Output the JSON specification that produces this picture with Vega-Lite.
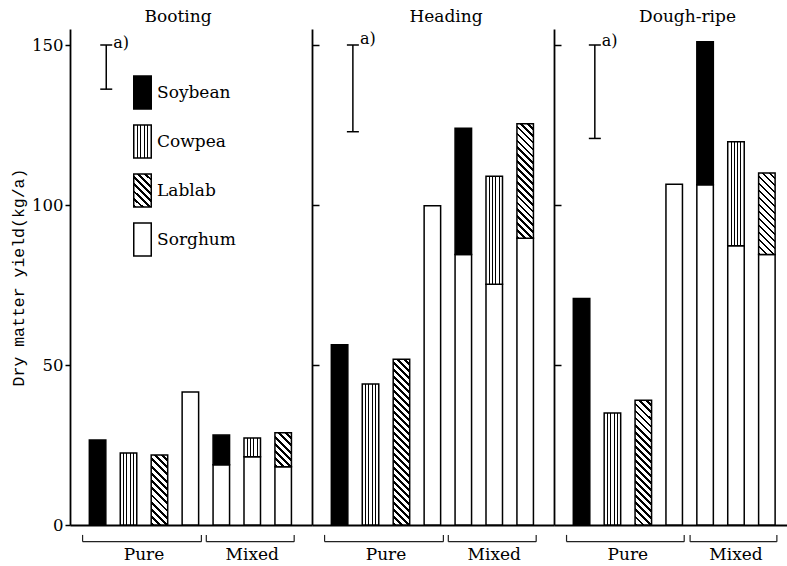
{
"$schema":"https://vega.github.io/schema/vega-lite/v6.json",
"background":"white",
"padding":{"left":10,"top":8,"right":0,"bottom":0},
"spacing":0,
"bounds":"flush",
"config":{"view":{"stroke":null},"font":"DejaVu Serif",
 "axis":{"domainColor":"#000","tickColor":"#000","labelColor":"#000","titleColor":"#000","grid":false,"domainWidth":1.8,"tickWidth":1.5},
 "title":{"font":"DejaVu Serif","fontSize":17,"fontWeight":"normal","color":"#000","anchor":"middle","offset":3}},
"resolve":{"scale":{"fill":"independent"},"legend":{"fill":"independent"}},
"datasets":{
"yield":[
{"stage":"Booting","system":"Pure","pos":1,"crop":"Soybean","part":"legume","yield":26.6},
{"stage":"Booting","system":"Pure","pos":2,"crop":"Cowpea","part":"legume","yield":22.5},
{"stage":"Booting","system":"Pure","pos":3,"crop":"Lablab","part":"legume","yield":21.9},
{"stage":"Booting","system":"Pure","pos":4,"crop":"Sorghum","part":"sorghum","yield":41.6},
{"stage":"Booting","system":"Mixed","pos":5,"crop":"Sorghum","part":"sorghum","yield":18.8},
{"stage":"Booting","system":"Mixed","pos":5,"crop":"Soybean","part":"legume","yield":9.3},
{"stage":"Booting","system":"Mixed","pos":6,"crop":"Sorghum","part":"sorghum","yield":21.3},
{"stage":"Booting","system":"Mixed","pos":6,"crop":"Cowpea","part":"legume","yield":5.9},
{"stage":"Booting","system":"Mixed","pos":7,"crop":"Sorghum","part":"sorghum","yield":18.2},
{"stage":"Booting","system":"Mixed","pos":7,"crop":"Lablab","part":"legume","yield":10.6},
{"stage":"Heading","system":"Pure","pos":1,"crop":"Soybean","part":"legume","yield":56.3},
{"stage":"Heading","system":"Pure","pos":2,"crop":"Cowpea","part":"legume","yield":44.1},
{"stage":"Heading","system":"Pure","pos":3,"crop":"Lablab","part":"legume","yield":51.8},
{"stage":"Heading","system":"Pure","pos":4,"crop":"Sorghum","part":"sorghum","yield":99.8},
{"stage":"Heading","system":"Mixed","pos":5,"crop":"Sorghum","part":"sorghum","yield":84.5},
{"stage":"Heading","system":"Mixed","pos":5,"crop":"Soybean","part":"legume","yield":39.5},
{"stage":"Heading","system":"Mixed","pos":6,"crop":"Sorghum","part":"sorghum","yield":75.2},
{"stage":"Heading","system":"Mixed","pos":6,"crop":"Cowpea","part":"legume","yield":33.8},
{"stage":"Heading","system":"Mixed","pos":7,"crop":"Sorghum","part":"sorghum","yield":89.6},
{"stage":"Heading","system":"Mixed","pos":7,"crop":"Lablab","part":"legume","yield":35.8},
{"stage":"Dough-ripe","system":"Pure","pos":1,"crop":"Soybean","part":"legume","yield":70.8},
{"stage":"Dough-ripe","system":"Pure","pos":2,"crop":"Cowpea","part":"legume","yield":35.0},
{"stage":"Dough-ripe","system":"Pure","pos":3,"crop":"Lablab","part":"legume","yield":39.0},
{"stage":"Dough-ripe","system":"Pure","pos":4,"crop":"Sorghum","part":"sorghum","yield":106.5},
{"stage":"Dough-ripe","system":"Mixed","pos":5,"crop":"Sorghum","part":"sorghum","yield":106.3},
{"stage":"Dough-ripe","system":"Mixed","pos":5,"crop":"Soybean","part":"legume","yield":44.7},
{"stage":"Dough-ripe","system":"Mixed","pos":6,"crop":"Sorghum","part":"sorghum","yield":87.3},
{"stage":"Dough-ripe","system":"Mixed","pos":6,"crop":"Cowpea","part":"legume","yield":32.5},
{"stage":"Dough-ripe","system":"Mixed","pos":7,"crop":"Sorghum","part":"sorghum","yield":84.5},
{"stage":"Dough-ripe","system":"Mixed","pos":7,"crop":"Lablab","part":"legume","yield":25.5}
],
"lsd":[
{"stage":"Booting","top":150,"bottom":136.2,"note":"a)"},
{"stage":"Heading","top":150,"bottom":122.9,"note":"a)"},
{"stage":"Dough-ripe","top":150,"bottom":120.8,"note":"a)"}
]},
"hconcat":[
{
"width":242,"height":496,
"title":{"text":"Booting","dx":-13},
"layer":[
{"data":{"name":"yield"},
 "transform":[{"filter":"datum.stage==='Booting'"},{"stack":"yield","groupby":["pos"],"sort":[{"field":"part","order":"descending"}],"as":["y0","y1"]},{"filter":"datum.crop!=='Lablab'"}],
 "mark":{"type":"bar","size":16.5,"stroke":"#000","strokeWidth":1.5},
 "encoding":{
  "x":{"field":"pos","type":"quantitative","scale":{"domain":[0.27,7.77],"nice":false,"zero":false},"axis":{"title":null,"labels":false,"ticks":false}},
  "y":{"field":"y1","type":"quantitative","scale":{"domain":[0,155],"nice":false},"axis":{"title":"Dry matter yield(kg/a)","values":[0,50,100,150],"titleFont":"Liberation Mono","titleFontSize":16.5,"titleFontWeight":"normal","titlePadding":5,"labelFont":"DejaVu Serif","labelFontSize":16.5,"labelPadding":2,"tickSize":5,"labelFlush":false}},
  "y2":{"field":"y0"},
  "fill":{"field":"crop","type":"nominal",
   "scale":{"domain":["Soybean","Cowpea","Lablab","Sorghum"],"range":["#000",
    {"expr":"{gradient:'linear',x1:0,y1:0,x2:1,y2:0,stops:[{offset:0,color:'#fff'},{offset:0.17,color:'#fff'},{offset:0.17,color:'#000'},{offset:0.23,color:'#000'},{offset:0.23,color:'#fff'},{offset:0.37,color:'#fff'},{offset:0.37,color:'#000'},{offset:0.43,color:'#000'},{offset:0.43,color:'#fff'},{offset:0.57,color:'#fff'},{offset:0.57,color:'#000'},{offset:0.63,color:'#000'},{offset:0.63,color:'#fff'},{offset:0.77,color:'#fff'},{offset:0.77,color:'#000'},{offset:0.83,color:'#000'},{offset:0.83,color:'#fff'},{offset:1,color:'#fff'}]}"},
    {"expr":"{gradient:'linear',x1:1,y1:0,x2:0.3832,y2:1.1974,stops:[{offset:0,color:'#fff'},{offset:0.0857,color:'#fff'},{offset:0.0857,color:'#000'},{offset:0.1429,color:'#000'},{offset:0.1429,color:'#fff'},{offset:0.2286,color:'#fff'},{offset:0.2286,color:'#000'},{offset:0.2857,color:'#000'},{offset:0.2857,color:'#fff'},{offset:0.3714,color:'#fff'},{offset:0.3714,color:'#000'},{offset:0.4286,color:'#000'},{offset:0.4286,color:'#fff'},{offset:0.5143,color:'#fff'},{offset:0.5143,color:'#000'},{offset:0.5714,color:'#000'},{offset:0.5714,color:'#fff'},{offset:0.6571,color:'#fff'},{offset:0.6571,color:'#000'},{offset:0.7143,color:'#000'},{offset:0.7143,color:'#fff'},{offset:0.8,color:'#fff'},{offset:0.8,color:'#000'},{offset:0.8571,color:'#000'},{offset:0.8571,color:'#fff'},{offset:0.9429,color:'#fff'},{offset:0.9429,color:'#000'},{offset:1,color:'#000'}]}"},
    "#fff"]},
   "legend":{"orient":"none","legendX":55,"legendY":46,"title":null,"symbolType":"M-0.53,-1H0.53V1H-0.53Z","symbolSize":1089,"symbolStrokeColor":"#000","symbolStrokeWidth":1.5,"labelFont":"DejaVu Serif","labelFontSize":17,"labelColor":"#000","labelOffset":-3,"rowPadding":10,"padding":0}}
 }},
{"data":{"name":"yield"},
 "transform":[{"filter":"datum.stage==='Booting'"},{"stack":"yield","groupby":["pos"],"sort":[{"field":"part","order":"descending"}],"as":["y0","y1"]},{"filter":"datum.crop==='Lablab' && datum.system==='Pure'"}],
 "mark":{"type":"bar","size":16.5,"stroke":"#000","strokeWidth":1.5,
  "fill":{"gradient":"linear","x1":1,"y1":0,"x2":0.7245,"y2":1.1705,"stops":[
{"offset":0,"color":"#fff"},{"offset":0.05,"color":"#fff"},{"offset":0.05,"color":"#000"},{"offset":0.0833,"color":"#000"},
{"offset":0.0833,"color":"#fff"},{"offset":0.1333,"color":"#fff"},{"offset":0.1333,"color":"#000"},{"offset":0.1667,"color":"#000"},
{"offset":0.1667,"color":"#fff"},{"offset":0.2167,"color":"#fff"},{"offset":0.2167,"color":"#000"},{"offset":0.25,"color":"#000"},
{"offset":0.25,"color":"#fff"},{"offset":0.3,"color":"#fff"},{"offset":0.3,"color":"#000"},{"offset":0.3333,"color":"#000"},
{"offset":0.3333,"color":"#fff"},{"offset":0.3833,"color":"#fff"},{"offset":0.3833,"color":"#000"},{"offset":0.4167,"color":"#000"},
{"offset":0.4167,"color":"#fff"},{"offset":0.4667,"color":"#fff"},{"offset":0.4667,"color":"#000"},{"offset":0.5,"color":"#000"},
{"offset":0.5,"color":"#fff"},{"offset":0.55,"color":"#fff"},{"offset":0.55,"color":"#000"},{"offset":0.5833,"color":"#000"},
{"offset":0.5833,"color":"#fff"},{"offset":0.6333,"color":"#fff"},{"offset":0.6333,"color":"#000"},{"offset":0.6667,"color":"#000"},
{"offset":0.6667,"color":"#fff"},{"offset":0.7167,"color":"#fff"},{"offset":0.7167,"color":"#000"},{"offset":0.75,"color":"#000"},
{"offset":0.75,"color":"#fff"},{"offset":0.8,"color":"#fff"},{"offset":0.8,"color":"#000"},{"offset":0.8333,"color":"#000"},
{"offset":0.8333,"color":"#fff"},{"offset":0.8833,"color":"#fff"},{"offset":0.8833,"color":"#000"},{"offset":0.9167,"color":"#000"},
{"offset":0.9167,"color":"#fff"},{"offset":0.9667,"color":"#fff"},{"offset":0.9667,"color":"#000"},{"offset":1,"color":"#000"}]}},
 "encoding":{"x":{"field":"pos","type":"quantitative"},"y":{"field":"y1","type":"quantitative"},"y2":{"field":"y0"}}},
{"data":{"name":"yield"},
 "transform":[{"filter":"datum.stage==='Booting'"},{"stack":"yield","groupby":["pos"],"sort":[{"field":"part","order":"descending"}],"as":["y0","y1"]},{"filter":"datum.crop==='Lablab' && datum.system==='Mixed'"}],
 "mark":{"type":"bar","size":16.5,"stroke":"#000","strokeWidth":1.5,
  "fill":{"gradient":"linear","x1":1,"y1":0,"x2":0.415,"y2":1.202,"stops":[
{"offset":0,"color":"#fff"},{"offset":0.0857,"color":"#fff"},{"offset":0.0857,"color":"#000"},{"offset":0.1429,"color":"#000"},
{"offset":0.1429,"color":"#fff"},{"offset":0.2286,"color":"#fff"},{"offset":0.2286,"color":"#000"},{"offset":0.2857,"color":"#000"},
{"offset":0.2857,"color":"#fff"},{"offset":0.3714,"color":"#fff"},{"offset":0.3714,"color":"#000"},{"offset":0.4286,"color":"#000"},
{"offset":0.4286,"color":"#fff"},{"offset":0.5143,"color":"#fff"},{"offset":0.5143,"color":"#000"},{"offset":0.5714,"color":"#000"},
{"offset":0.5714,"color":"#fff"},{"offset":0.6571,"color":"#fff"},{"offset":0.6571,"color":"#000"},{"offset":0.7143,"color":"#000"},
{"offset":0.7143,"color":"#fff"},{"offset":0.8,"color":"#fff"},{"offset":0.8,"color":"#000"},{"offset":0.8571,"color":"#000"},
{"offset":0.8571,"color":"#fff"},{"offset":0.9429,"color":"#fff"},{"offset":0.9429,"color":"#000"},{"offset":1,"color":"#000"}]}},
 "encoding":{"x":{"field":"pos","type":"quantitative"},"y":{"field":"y1","type":"quantitative"},"y2":{"field":"y0"}}},
{"data":{"name":"yield"},
 "transform":[{"filter":"datum.stage==='Booting'"},{"aggregate":[{"op":"min","field":"pos","as":"p0"},{"op":"max","field":"pos","as":"p1"},{"op":"mean","field":"pos","as":"pm"}],"groupby":["system"]}],
 "layer":[
  {"mark":{"type":"rule","xOffset":-15,"x2Offset":11,"strokeWidth":1.2,"color":"#222"},
   "encoding":{"x":{"field":"p0","type":"quantitative"},"x2":{"field":"p1"},"y":{"datum":-5.2,"type":"quantitative"}}},
  {"mark":{"type":"rule","xOffset":-15,"strokeWidth":1.2,"color":"#222"},
   "encoding":{"x":{"field":"p0","type":"quantitative"},"y":{"datum":-5.2,"type":"quantitative"},"y2":{"datum":-3.1}}},
  {"mark":{"type":"rule","xOffset":11,"strokeWidth":1.2,"color":"#222"},
   "encoding":{"x":{"field":"p1","type":"quantitative"},"y":{"datum":-5.2,"type":"quantitative"},"y2":{"datum":-3.1}}},
  {"mark":{"type":"text","font":"DejaVu Serif","fontSize":17,"baseline":"middle","align":"center","color":"#000"},
   "encoding":{"x":{"field":"pm","type":"quantitative"},"y":{"datum":-9.4,"type":"quantitative"},"text":{"field":"system"}}}
 ]},
{"data":{"name":"lsd"},
 "transform":[{"filter":"datum.stage==='Booting'"}],
 "layer":[
  {"mark":{"type":"rule","strokeWidth":1.5,"color":"#000"},
   "encoding":{"x":{"datum":1.28,"type":"quantitative"},"y":{"field":"top","type":"quantitative"},"y2":{"field":"bottom"}}},
  {"mark":{"type":"rule","xOffset":-6,"x2Offset":6,"strokeWidth":1.5,"color":"#000"},
   "encoding":{"x":{"datum":1.28,"type":"quantitative"},"x2":{"datum":1.28},"y":{"field":"top","type":"quantitative"}}},
  {"mark":{"type":"rule","xOffset":-6,"x2Offset":6,"strokeWidth":1.5,"color":"#000"},
   "encoding":{"x":{"datum":1.28,"type":"quantitative"},"x2":{"datum":1.28},"y":{"field":"bottom","type":"quantitative"}}},
  {"mark":{"type":"text","align":"left","baseline":"middle","dx":7,"dy":-2,"fontSize":16,"font":"DejaVu Serif","color":"#000"},
   "encoding":{"x":{"datum":1.28,"type":"quantitative"},"y":{"field":"top","type":"quantitative"},"text":{"field":"note"}}}
 ]}
]},
{
"width":242,"height":496,
"title":{"text":"Heading","dx":13},
"layer":[
{"data":{"name":"yield"},
 "transform":[{"filter":"datum.stage==='Heading'"},{"stack":"yield","groupby":["pos"],"sort":[{"field":"part","order":"descending"}],"as":["y0","y1"]},{"filter":"datum.crop!=='Lablab'"}],
 "mark":{"type":"bar","size":16.5,"stroke":"#000","strokeWidth":1.5},
 "encoding":{
  "x":{"field":"pos","type":"quantitative","scale":{"domain":[0.27,7.77],"nice":false,"zero":false},"axis":{"title":null,"labels":false,"ticks":false}},
  "y":{"field":"y1","type":"quantitative","scale":{"domain":[0,155],"nice":false},"axis":{"title":null,"values":[50,100,150],"labels":false,"tickSize":-7}},
  "y2":{"field":"y0"},
  "fill":{"field":"crop","type":"nominal",
   "scale":{"domain":["Soybean","Cowpea","Lablab","Sorghum"],"range":["#000",
    {"expr":"{gradient:'linear',x1:0,y1:0,x2:1,y2:0,stops:[{offset:0,color:'#fff'},{offset:0.17,color:'#fff'},{offset:0.17,color:'#000'},{offset:0.23,color:'#000'},{offset:0.23,color:'#fff'},{offset:0.37,color:'#fff'},{offset:0.37,color:'#000'},{offset:0.43,color:'#000'},{offset:0.43,color:'#fff'},{offset:0.57,color:'#fff'},{offset:0.57,color:'#000'},{offset:0.63,color:'#000'},{offset:0.63,color:'#fff'},{offset:0.77,color:'#fff'},{offset:0.77,color:'#000'},{offset:0.83,color:'#000'},{offset:0.83,color:'#fff'},{offset:1,color:'#fff'}]}"},
    "#fff","#fff"]},
   "legend":null}
 }},
{"data":{"name":"yield"},
 "transform":[{"filter":"datum.stage==='Heading'"},{"stack":"yield","groupby":["pos"],"sort":[{"field":"part","order":"descending"}],"as":["y0","y1"]},{"filter":"datum.crop==='Lablab' && datum.system==='Pure'"}],
 "mark":{"type":"bar","size":16.5,"stroke":"#000","strokeWidth":1.5,
  "fill":{"gradient":"linear","x1":1,"y1":0,"x2":0.8917,"y2":1.0887,"stops":[
{"offset":0,"color":"#fff"},{"offset":0.0231,"color":"#fff"},{"offset":0.0231,"color":"#000"},{"offset":0.0385,"color":"#000"},
{"offset":0.0385,"color":"#fff"},{"offset":0.0615,"color":"#fff"},{"offset":0.0615,"color":"#000"},{"offset":0.0769,"color":"#000"},
{"offset":0.0769,"color":"#fff"},{"offset":0.1,"color":"#fff"},{"offset":0.1,"color":"#000"},{"offset":0.1154,"color":"#000"},
{"offset":0.1154,"color":"#fff"},{"offset":0.1385,"color":"#fff"},{"offset":0.1385,"color":"#000"},{"offset":0.1538,"color":"#000"},
{"offset":0.1538,"color":"#fff"},{"offset":0.1769,"color":"#fff"},{"offset":0.1769,"color":"#000"},{"offset":0.1923,"color":"#000"},
{"offset":0.1923,"color":"#fff"},{"offset":0.2154,"color":"#fff"},{"offset":0.2154,"color":"#000"},{"offset":0.2308,"color":"#000"},
{"offset":0.2308,"color":"#fff"},{"offset":0.2538,"color":"#fff"},{"offset":0.2538,"color":"#000"},{"offset":0.2692,"color":"#000"},
{"offset":0.2692,"color":"#fff"},{"offset":0.2923,"color":"#fff"},{"offset":0.2923,"color":"#000"},{"offset":0.3077,"color":"#000"},
{"offset":0.3077,"color":"#fff"},{"offset":0.3308,"color":"#fff"},{"offset":0.3308,"color":"#000"},{"offset":0.3462,"color":"#000"},
{"offset":0.3462,"color":"#fff"},{"offset":0.3692,"color":"#fff"},{"offset":0.3692,"color":"#000"},{"offset":0.3846,"color":"#000"},
{"offset":0.3846,"color":"#fff"},{"offset":0.4077,"color":"#fff"},{"offset":0.4077,"color":"#000"},{"offset":0.4231,"color":"#000"},
{"offset":0.4231,"color":"#fff"},{"offset":0.4462,"color":"#fff"},{"offset":0.4462,"color":"#000"},{"offset":0.4615,"color":"#000"},
{"offset":0.4615,"color":"#fff"},{"offset":0.4846,"color":"#fff"},{"offset":0.4846,"color":"#000"},{"offset":0.5,"color":"#000"},
{"offset":0.5,"color":"#fff"},{"offset":0.5231,"color":"#fff"},{"offset":0.5231,"color":"#000"},{"offset":0.5385,"color":"#000"},
{"offset":0.5385,"color":"#fff"},{"offset":0.5615,"color":"#fff"},{"offset":0.5615,"color":"#000"},{"offset":0.5769,"color":"#000"},
{"offset":0.5769,"color":"#fff"},{"offset":0.6,"color":"#fff"},{"offset":0.6,"color":"#000"},{"offset":0.6154,"color":"#000"},
{"offset":0.6154,"color":"#fff"},{"offset":0.6385,"color":"#fff"},{"offset":0.6385,"color":"#000"},{"offset":0.6538,"color":"#000"},
{"offset":0.6538,"color":"#fff"},{"offset":0.6769,"color":"#fff"},{"offset":0.6769,"color":"#000"},{"offset":0.6923,"color":"#000"},
{"offset":0.6923,"color":"#fff"},{"offset":0.7154,"color":"#fff"},{"offset":0.7154,"color":"#000"},{"offset":0.7308,"color":"#000"},
{"offset":0.7308,"color":"#fff"},{"offset":0.7538,"color":"#fff"},{"offset":0.7538,"color":"#000"},{"offset":0.7692,"color":"#000"},
{"offset":0.7692,"color":"#fff"},{"offset":0.7923,"color":"#fff"},{"offset":0.7923,"color":"#000"},{"offset":0.8077,"color":"#000"},
{"offset":0.8077,"color":"#fff"},{"offset":0.8308,"color":"#fff"},{"offset":0.8308,"color":"#000"},{"offset":0.8462,"color":"#000"},
{"offset":0.8462,"color":"#fff"},{"offset":0.8692,"color":"#fff"},{"offset":0.8692,"color":"#000"},{"offset":0.8846,"color":"#000"},
{"offset":0.8846,"color":"#fff"},{"offset":0.9077,"color":"#fff"},{"offset":0.9077,"color":"#000"},{"offset":0.9231,"color":"#000"},
{"offset":0.9231,"color":"#fff"},{"offset":0.9462,"color":"#fff"},{"offset":0.9462,"color":"#000"},{"offset":0.9615,"color":"#000"},
{"offset":0.9615,"color":"#fff"},{"offset":0.9846,"color":"#fff"},{"offset":0.9846,"color":"#000"},{"offset":1,"color":"#000"}]}},
 "encoding":{"x":{"field":"pos","type":"quantitative"},"y":{"field":"y1","type":"quantitative"},"y2":{"field":"y0"}}},
{"data":{"name":"yield"},
 "transform":[{"filter":"datum.stage==='Heading'"},{"stack":"yield","groupby":["pos"],"sort":[{"field":"part","order":"descending"}],"as":["y0","y1"]},{"filter":"datum.crop==='Lablab' && datum.system==='Mixed'"}],
 "mark":{"type":"bar","size":16.5,"stroke":"#000","strokeWidth":1.5,
  "fill":{"gradient":"linear","x1":1,"y1":0,"x2":0.8386,"y2":1.1208,"stops":[
{"offset":0,"color":"#fff"},{"offset":0.0316,"color":"#fff"},{"offset":0.0316,"color":"#000"},{"offset":0.0526,"color":"#000"},
{"offset":0.0526,"color":"#fff"},{"offset":0.0842,"color":"#fff"},{"offset":0.0842,"color":"#000"},{"offset":0.1053,"color":"#000"},
{"offset":0.1053,"color":"#fff"},{"offset":0.1368,"color":"#fff"},{"offset":0.1368,"color":"#000"},{"offset":0.1579,"color":"#000"},
{"offset":0.1579,"color":"#fff"},{"offset":0.1895,"color":"#fff"},{"offset":0.1895,"color":"#000"},{"offset":0.2105,"color":"#000"},
{"offset":0.2105,"color":"#fff"},{"offset":0.2421,"color":"#fff"},{"offset":0.2421,"color":"#000"},{"offset":0.2632,"color":"#000"},
{"offset":0.2632,"color":"#fff"},{"offset":0.2947,"color":"#fff"},{"offset":0.2947,"color":"#000"},{"offset":0.3158,"color":"#000"},
{"offset":0.3158,"color":"#fff"},{"offset":0.3474,"color":"#fff"},{"offset":0.3474,"color":"#000"},{"offset":0.3684,"color":"#000"},
{"offset":0.3684,"color":"#fff"},{"offset":0.4,"color":"#fff"},{"offset":0.4,"color":"#000"},{"offset":0.4211,"color":"#000"},
{"offset":0.4211,"color":"#fff"},{"offset":0.4526,"color":"#fff"},{"offset":0.4526,"color":"#000"},{"offset":0.4737,"color":"#000"},
{"offset":0.4737,"color":"#fff"},{"offset":0.5053,"color":"#fff"},{"offset":0.5053,"color":"#000"},{"offset":0.5263,"color":"#000"},
{"offset":0.5263,"color":"#fff"},{"offset":0.5579,"color":"#fff"},{"offset":0.5579,"color":"#000"},{"offset":0.5789,"color":"#000"},
{"offset":0.5789,"color":"#fff"},{"offset":0.6105,"color":"#fff"},{"offset":0.6105,"color":"#000"},{"offset":0.6316,"color":"#000"},
{"offset":0.6316,"color":"#fff"},{"offset":0.6632,"color":"#fff"},{"offset":0.6632,"color":"#000"},{"offset":0.6842,"color":"#000"},
{"offset":0.6842,"color":"#fff"},{"offset":0.7158,"color":"#fff"},{"offset":0.7158,"color":"#000"},{"offset":0.7368,"color":"#000"},
{"offset":0.7368,"color":"#fff"},{"offset":0.7684,"color":"#fff"},{"offset":0.7684,"color":"#000"},{"offset":0.7895,"color":"#000"},
{"offset":0.7895,"color":"#fff"},{"offset":0.8211,"color":"#fff"},{"offset":0.8211,"color":"#000"},{"offset":0.8421,"color":"#000"},
{"offset":0.8421,"color":"#fff"},{"offset":0.8737,"color":"#fff"},{"offset":0.8737,"color":"#000"},{"offset":0.8947,"color":"#000"},
{"offset":0.8947,"color":"#fff"},{"offset":0.9263,"color":"#fff"},{"offset":0.9263,"color":"#000"},{"offset":0.9474,"color":"#000"},
{"offset":0.9474,"color":"#fff"},{"offset":0.9789,"color":"#fff"},{"offset":0.9789,"color":"#000"},{"offset":1,"color":"#000"}]}},
 "encoding":{"x":{"field":"pos","type":"quantitative"},"y":{"field":"y1","type":"quantitative"},"y2":{"field":"y0"}}},
{"data":{"name":"yield"},
 "transform":[{"filter":"datum.stage==='Heading'"},{"aggregate":[{"op":"min","field":"pos","as":"p0"},{"op":"max","field":"pos","as":"p1"},{"op":"mean","field":"pos","as":"pm"}],"groupby":["system"]}],
 "layer":[
  {"mark":{"type":"rule","xOffset":-15,"x2Offset":11,"strokeWidth":1.2,"color":"#222"},
   "encoding":{"x":{"field":"p0","type":"quantitative"},"x2":{"field":"p1"},"y":{"datum":-5.2,"type":"quantitative"}}},
  {"mark":{"type":"rule","xOffset":-15,"strokeWidth":1.2,"color":"#222"},
   "encoding":{"x":{"field":"p0","type":"quantitative"},"y":{"datum":-5.2,"type":"quantitative"},"y2":{"datum":-3.1}}},
  {"mark":{"type":"rule","xOffset":11,"strokeWidth":1.2,"color":"#222"},
   "encoding":{"x":{"field":"p1","type":"quantitative"},"y":{"datum":-5.2,"type":"quantitative"},"y2":{"datum":-3.1}}},
  {"mark":{"type":"text","font":"DejaVu Serif","fontSize":17,"baseline":"middle","align":"center","color":"#000"},
   "encoding":{"x":{"field":"pm","type":"quantitative"},"y":{"datum":-9.4,"type":"quantitative"},"text":{"field":"system"}}}
 ]},
{"data":{"name":"lsd"},
 "transform":[{"filter":"datum.stage==='Heading'"}],
 "layer":[
  {"mark":{"type":"rule","strokeWidth":1.5,"color":"#000"},
   "encoding":{"x":{"datum":1.43,"type":"quantitative"},"y":{"field":"top","type":"quantitative"},"y2":{"field":"bottom"}}},
  {"mark":{"type":"rule","xOffset":-6,"x2Offset":6,"strokeWidth":1.5,"color":"#000"},
   "encoding":{"x":{"datum":1.43,"type":"quantitative"},"x2":{"datum":1.43},"y":{"field":"top","type":"quantitative"}}},
  {"mark":{"type":"rule","xOffset":-6,"x2Offset":6,"strokeWidth":1.5,"color":"#000"},
   "encoding":{"x":{"datum":1.43,"type":"quantitative"},"x2":{"datum":1.43},"y":{"field":"bottom","type":"quantitative"}}},
  {"mark":{"type":"text","align":"left","baseline":"middle","dx":7,"dy":-6,"fontSize":16,"font":"DejaVu Serif","color":"#000"},
   "encoding":{"x":{"datum":1.43,"type":"quantitative"},"y":{"field":"top","type":"quantitative"},"text":{"field":"note"}}}
 ]}
]},
{
"width":233,"height":496,
"title":{"text":"Dough-ripe","dx":17},
"layer":[
{"data":{"name":"yield"},
 "transform":[{"filter":"datum.stage==='Dough-ripe'"},{"stack":"yield","groupby":["pos"],"sort":[{"field":"part","order":"descending"}],"as":["y0","y1"]},{"filter":"datum.crop!=='Lablab'"}],
 "mark":{"type":"bar","size":16.5,"stroke":"#000","strokeWidth":1.5},
 "encoding":{
  "x":{"field":"pos","type":"quantitative","scale":{"domain":[0.27,7.49],"nice":false,"zero":false},"axis":{"title":null,"labels":false,"ticks":false}},
  "y":{"field":"y1","type":"quantitative","scale":{"domain":[0,155],"nice":false},"axis":{"title":null,"values":[50,100,150],"labels":false,"tickSize":-7}},
  "y2":{"field":"y0"},
  "fill":{"field":"crop","type":"nominal",
   "scale":{"domain":["Soybean","Cowpea","Lablab","Sorghum"],"range":["#000",
    {"expr":"{gradient:'linear',x1:0,y1:0,x2:1,y2:0,stops:[{offset:0,color:'#fff'},{offset:0.17,color:'#fff'},{offset:0.17,color:'#000'},{offset:0.23,color:'#000'},{offset:0.23,color:'#fff'},{offset:0.37,color:'#fff'},{offset:0.37,color:'#000'},{offset:0.43,color:'#000'},{offset:0.43,color:'#fff'},{offset:0.57,color:'#fff'},{offset:0.57,color:'#000'},{offset:0.63,color:'#000'},{offset:0.63,color:'#fff'},{offset:0.77,color:'#fff'},{offset:0.77,color:'#000'},{offset:0.83,color:'#000'},{offset:0.83,color:'#fff'},{offset:1,color:'#fff'}]}"},
    "#fff","#fff"]},
   "legend":null}
 }},
{"data":{"name":"yield"},
 "transform":[{"filter":"datum.stage==='Dough-ripe'"},{"stack":"yield","groupby":["pos"],"sort":[{"field":"part","order":"descending"}],"as":["y0","y1"]},{"filter":"datum.crop==='Lablab' && datum.system==='Pure'"}],
 "mark":{"type":"bar","size":16.5,"stroke":"#000","strokeWidth":1.5,
  "fill":{"gradient":"linear","x1":1,"y1":0,"x2":0.8529,"y2":1.1128,"stops":[
{"offset":0,"color":"#fff"},{"offset":0.03,"color":"#fff"},{"offset":0.03,"color":"#000"},{"offset":0.05,"color":"#000"},
{"offset":0.05,"color":"#fff"},{"offset":0.08,"color":"#fff"},{"offset":0.08,"color":"#000"},{"offset":0.1,"color":"#000"},
{"offset":0.1,"color":"#fff"},{"offset":0.13,"color":"#fff"},{"offset":0.13,"color":"#000"},{"offset":0.15,"color":"#000"},
{"offset":0.15,"color":"#fff"},{"offset":0.18,"color":"#fff"},{"offset":0.18,"color":"#000"},{"offset":0.2,"color":"#000"},
{"offset":0.2,"color":"#fff"},{"offset":0.23,"color":"#fff"},{"offset":0.23,"color":"#000"},{"offset":0.25,"color":"#000"},
{"offset":0.25,"color":"#fff"},{"offset":0.28,"color":"#fff"},{"offset":0.28,"color":"#000"},{"offset":0.3,"color":"#000"},
{"offset":0.3,"color":"#fff"},{"offset":0.33,"color":"#fff"},{"offset":0.33,"color":"#000"},{"offset":0.35,"color":"#000"},
{"offset":0.35,"color":"#fff"},{"offset":0.38,"color":"#fff"},{"offset":0.38,"color":"#000"},{"offset":0.4,"color":"#000"},
{"offset":0.4,"color":"#fff"},{"offset":0.43,"color":"#fff"},{"offset":0.43,"color":"#000"},{"offset":0.45,"color":"#000"},
{"offset":0.45,"color":"#fff"},{"offset":0.48,"color":"#fff"},{"offset":0.48,"color":"#000"},{"offset":0.5,"color":"#000"},
{"offset":0.5,"color":"#fff"},{"offset":0.53,"color":"#fff"},{"offset":0.53,"color":"#000"},{"offset":0.55,"color":"#000"},
{"offset":0.55,"color":"#fff"},{"offset":0.58,"color":"#fff"},{"offset":0.58,"color":"#000"},{"offset":0.6,"color":"#000"},
{"offset":0.6,"color":"#fff"},{"offset":0.63,"color":"#fff"},{"offset":0.63,"color":"#000"},{"offset":0.65,"color":"#000"},
{"offset":0.65,"color":"#fff"},{"offset":0.68,"color":"#fff"},{"offset":0.68,"color":"#000"},{"offset":0.7,"color":"#000"},
{"offset":0.7,"color":"#fff"},{"offset":0.73,"color":"#fff"},{"offset":0.73,"color":"#000"},{"offset":0.75,"color":"#000"},
{"offset":0.75,"color":"#fff"},{"offset":0.78,"color":"#fff"},{"offset":0.78,"color":"#000"},{"offset":0.8,"color":"#000"},
{"offset":0.8,"color":"#fff"},{"offset":0.83,"color":"#fff"},{"offset":0.83,"color":"#000"},{"offset":0.85,"color":"#000"},
{"offset":0.85,"color":"#fff"},{"offset":0.88,"color":"#fff"},{"offset":0.88,"color":"#000"},{"offset":0.9,"color":"#000"},
{"offset":0.9,"color":"#fff"},{"offset":0.93,"color":"#fff"},{"offset":0.93,"color":"#000"},{"offset":0.95,"color":"#000"},
{"offset":0.95,"color":"#fff"},{"offset":0.98,"color":"#fff"},{"offset":0.98,"color":"#000"},{"offset":1,"color":"#000"}]}},
 "encoding":{"x":{"field":"pos","type":"quantitative"},"y":{"field":"y1","type":"quantitative"},"y2":{"field":"y0"}}},
{"data":{"name":"yield"},
 "transform":[{"filter":"datum.stage==='Dough-ripe'"},{"stack":"yield","groupby":["pos"],"sort":[{"field":"part","order":"descending"}],"as":["y0","y1"]},{"filter":"datum.crop==='Lablab' && datum.system==='Mixed'"}],
 "mark":{"type":"bar","size":16.5,"stroke":"#000","strokeWidth":1.5,
  "fill":{"gradient":"linear","x1":1,"y1":0,"x2":0.7664,"y2":1.155,"stops":[
{"offset":0,"color":"#fff"},{"offset":0.0429,"color":"#fff"},{"offset":0.0429,"color":"#000"},{"offset":0.0714,"color":"#000"},
{"offset":0.0714,"color":"#fff"},{"offset":0.1143,"color":"#fff"},{"offset":0.1143,"color":"#000"},{"offset":0.1429,"color":"#000"},
{"offset":0.1429,"color":"#fff"},{"offset":0.1857,"color":"#fff"},{"offset":0.1857,"color":"#000"},{"offset":0.2143,"color":"#000"},
{"offset":0.2143,"color":"#fff"},{"offset":0.2571,"color":"#fff"},{"offset":0.2571,"color":"#000"},{"offset":0.2857,"color":"#000"},
{"offset":0.2857,"color":"#fff"},{"offset":0.3286,"color":"#fff"},{"offset":0.3286,"color":"#000"},{"offset":0.3571,"color":"#000"},
{"offset":0.3571,"color":"#fff"},{"offset":0.4,"color":"#fff"},{"offset":0.4,"color":"#000"},{"offset":0.4286,"color":"#000"},
{"offset":0.4286,"color":"#fff"},{"offset":0.4714,"color":"#fff"},{"offset":0.4714,"color":"#000"},{"offset":0.5,"color":"#000"},
{"offset":0.5,"color":"#fff"},{"offset":0.5429,"color":"#fff"},{"offset":0.5429,"color":"#000"},{"offset":0.5714,"color":"#000"},
{"offset":0.5714,"color":"#fff"},{"offset":0.6143,"color":"#fff"},{"offset":0.6143,"color":"#000"},{"offset":0.6429,"color":"#000"},
{"offset":0.6429,"color":"#fff"},{"offset":0.6857,"color":"#fff"},{"offset":0.6857,"color":"#000"},{"offset":0.7143,"color":"#000"},
{"offset":0.7143,"color":"#fff"},{"offset":0.7571,"color":"#fff"},{"offset":0.7571,"color":"#000"},{"offset":0.7857,"color":"#000"},
{"offset":0.7857,"color":"#fff"},{"offset":0.8286,"color":"#fff"},{"offset":0.8286,"color":"#000"},{"offset":0.8571,"color":"#000"},
{"offset":0.8571,"color":"#fff"},{"offset":0.9,"color":"#fff"},{"offset":0.9,"color":"#000"},{"offset":0.9286,"color":"#000"},
{"offset":0.9286,"color":"#fff"},{"offset":0.9714,"color":"#fff"},{"offset":0.9714,"color":"#000"},{"offset":1,"color":"#000"}]}},
 "encoding":{"x":{"field":"pos","type":"quantitative"},"y":{"field":"y1","type":"quantitative"},"y2":{"field":"y0"}}},
{"data":{"name":"yield"},
 "transform":[{"filter":"datum.stage==='Dough-ripe'"},{"aggregate":[{"op":"min","field":"pos","as":"p0"},{"op":"max","field":"pos","as":"p1"},{"op":"mean","field":"pos","as":"pm"}],"groupby":["system"]}],
 "layer":[
  {"mark":{"type":"rule","xOffset":-15,"x2Offset":10,"strokeWidth":1.2,"color":"#222"},
   "encoding":{"x":{"field":"p0","type":"quantitative"},"x2":{"field":"p1"},"y":{"datum":-5.2,"type":"quantitative"}}},
  {"mark":{"type":"rule","xOffset":-15,"strokeWidth":1.2,"color":"#222"},
   "encoding":{"x":{"field":"p0","type":"quantitative"},"y":{"datum":-5.2,"type":"quantitative"},"y2":{"datum":-3.1}}},
  {"mark":{"type":"rule","xOffset":10,"strokeWidth":1.2,"color":"#222"},
   "encoding":{"x":{"field":"p1","type":"quantitative"},"y":{"datum":-5.2,"type":"quantitative"},"y2":{"datum":-3.1}}},
  {"mark":{"type":"text","font":"DejaVu Serif","fontSize":17,"baseline":"middle","align":"center","color":"#000"},
   "encoding":{"x":{"field":"pm","type":"quantitative"},"y":{"datum":-9.4,"type":"quantitative"},"text":{"field":"system"}}}
 ]},
{"data":{"name":"lsd"},
 "transform":[{"filter":"datum.stage==='Dough-ripe'"}],
 "layer":[
  {"mark":{"type":"rule","strokeWidth":1.5,"color":"#000"},
   "encoding":{"x":{"datum":1.43,"type":"quantitative"},"y":{"field":"top","type":"quantitative"},"y2":{"field":"bottom"}}},
  {"mark":{"type":"rule","xOffset":-6,"x2Offset":6,"strokeWidth":1.5,"color":"#000"},
   "encoding":{"x":{"datum":1.43,"type":"quantitative"},"x2":{"datum":1.43},"y":{"field":"top","type":"quantitative"}}},
  {"mark":{"type":"rule","xOffset":-6,"x2Offset":6,"strokeWidth":1.5,"color":"#000"},
   "encoding":{"x":{"datum":1.43,"type":"quantitative"},"x2":{"datum":1.43},"y":{"field":"bottom","type":"quantitative"}}},
  {"mark":{"type":"text","align":"left","baseline":"middle","dx":7,"dy":-4,"fontSize":16,"font":"DejaVu Serif","color":"#000"},
   "encoding":{"x":{"datum":1.43,"type":"quantitative"},"y":{"field":"top","type":"quantitative"},"text":{"field":"note"}}}
 ]}
]}
]}
